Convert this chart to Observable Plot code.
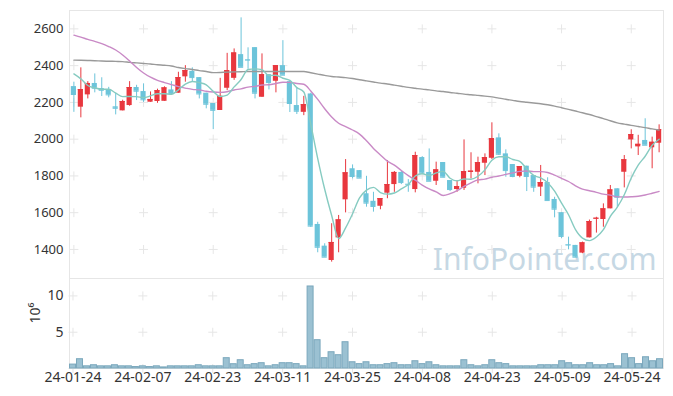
<!DOCTYPE html>
<html><head><meta charset="utf-8">
<script src="https://cdn.jsdelivr.net/npm/d3@7"></script>
<script src="https://cdn.jsdelivr.net/npm/@observablehq/plot@0.6"></script>
<style>
body{margin:0;background:#fff}
#chart{position:relative;width:673px;height:396px;background:#fff}
#chart svg{display:block}
</style>
</head><body><div id="chart"></div>
<script>
const dates = [
"2024-01-24","2024-01-25","2024-01-26","2024-01-29","2024-01-30","2024-01-31",
"2024-02-01","2024-02-02","2024-02-05","2024-02-06","2024-02-07","2024-02-08","2024-02-13","2024-02-14","2024-02-15","2024-02-16","2024-02-19","2024-02-20","2024-02-21","2024-02-22","2024-02-23","2024-02-26","2024-02-27","2024-02-28","2024-02-29",
"2024-03-04","2024-03-05","2024-03-06","2024-03-07","2024-03-08","2024-03-11","2024-03-12","2024-03-13","2024-03-14","2024-03-15","2024-03-18","2024-03-19","2024-03-20","2024-03-21","2024-03-22","2024-03-25","2024-03-26","2024-03-27","2024-03-28","2024-03-29",
"2024-04-01","2024-04-02","2024-04-03","2024-04-04","2024-04-05","2024-04-08","2024-04-09","2024-04-11","2024-04-12","2024-04-15","2024-04-16","2024-04-17","2024-04-18","2024-04-19","2024-04-22","2024-04-23","2024-04-24","2024-04-25","2024-04-26","2024-04-29","2024-04-30",
"2024-05-02","2024-05-03","2024-05-07","2024-05-08","2024-05-09","2024-05-10","2024-05-13","2024-05-14","2024-05-16","2024-05-17","2024-05-20","2024-05-21","2024-05-22","2024-05-23","2024-05-24","2024-05-27","2024-05-28","2024-05-29","2024-05-30"];

const opens = [2286,2174,2241,2303,2275,2270,2176,2154,2183,2281,2259,2201,2205,2206,2268,2250,2339,2369,2335,2250,2194,2156,2277,2331,2460,2433,2498,2228,2351,2315,2400,2313,2183,2146,2246,1536,1418,1340,1463,1670,1839,1829,1703,1662,1635,1706,1753,1819,1755,1726,1900,1819,1771,1873,1775,1726,1733,1819,1820,1869,1896,2007,1920,1862,1798,1853,1802,1739,1764,1672,1600,1427,1422,1380,1463,1565,1563,1621,1730,1820,1996,1958,1993,1953,1978];
const highs = [2310,2388,2313,2355,2334,2282,2250,2212,2313,2293,2301,2257,2272,2285,2313,2364,2400,2388,2335,2250,2194,2331,2467,2491,2660,2497,2498,2464,2351,2400,2536,2313,2279,2233,2250,1548,1431,1540,1585,1889,1860,1829,1798,1711,1677,1884,1824,1824,1780,1929,1905,1947,1875,1873,1775,1775,1996,1926,1902,1920,2089,2029,1942,1862,1851,1853,1802,1857,1790,1684,1600,1467,1422,1440,1560,1575,1648,1748,1730,1911,2051,2021,2111,2011,2078];
const lows = [2146,2116,2219,2252,2232,2225,2132,2154,2179,2210,2200,2201,2195,2206,2243,2250,2310,2313,2219,2165,2052,2156,2264,2320,2391,2380,2219,2228,2268,2252,2348,2145,2134,2128,1520,1382,1358,1331,1382,1599,1784,1788,1630,1603,1616,1676,1711,1753,1711,1708,1811,1771,1748,1790,1715,1711,1721,1784,1757,1802,1889,1911,1793,1790,1790,1715,1711,1688,1666,1572,1458,1398,1358,1377,1463,1489,1521,1621,1630,1735,1947,1911,1967,1839,1926];
const closes = [2243,2270,2303,2277,2266,2241,2168,2205,2281,2261,2214,2216,2264,2279,2248,2335,2373,2335,2246,2190,2157,2233,2373,2469,2391,2430,2250,2351,2308,2400,2348,2194,2152,2188,1527,1412,1358,1438,1561,1817,1797,1788,1652,1634,1677,1753,1819,1764,1752,1911,1815,1771,1833,1793,1726,1742,1824,1826,1873,1900,2003,1918,1829,1797,1851,1797,1739,1764,1666,1619,1471,1424,1358,1436,1552,1570,1621,1724,1684,1888,2025,1972,1967,1983,2052];
const volumes = [540000,1280000,300000,450000,300000,300000,450000,300000,300000,200000,300000,200000,300000,150000,300000,300000,300000,300000,450000,300000,300000,300000,1420000,590000,1140000,450000,600000,730000,300000,450000,730000,730000,600000,300000,11300000,3900000,1420000,2240000,1830000,3620000,860000,600000,860000,450000,450000,600000,730000,450000,450000,1000000,600000,860000,450000,300000,300000,300000,1140000,450000,300000,450000,1140000,730000,600000,300000,300000,300000,300000,450000,450000,450000,1000000,730000,450000,450000,730000,450000,450000,600000,300000,1970000,1420000,600000,1550000,1000000,1280000];

const ma5Lead = [2355,2328,2292,2279];
const ma20Lead = [2566,2555,2543,2532,2520,2504,2485,2458,2425,2390,2360,2337,2320,2308,2297,2286,2278,2271,2268];
const ma60 = [2430,2429,2428,2427,2425,2424,2423,2422,2418,2415,2412,2409,2405,2402,2398,2390,2384,2379,2373,2368,2362,2363,2365,2366,2367,2368,2368,2368,2368,2368,2368,2368,2368,2368,2361,2354,2347,2341,2338,2335,2330,2323,2317,2311,2305,2300,2294,2288,2282,2277,2272,2268,2263,2259,2254,2250,2245,2242,2238,2234,2230,2223,2217,2211,2205,2201,2197,2193,2187,2180,2171,2162,2153,2144,2134,2123,2112,2100,2089,2082,2075,2069,2063,2056,2050];

const priceTicks = [1400,1600,1800,2000,2200,2400,2600];
const volumeTicks = [5,10];
const xTickDates = ["2024-01-24","2024-02-07","2024-02-23","2024-03-11","2024-03-25","2024-04-08","2024-04-23","2024-05-09","2024-05-24"];
const watermark = "InfoPointer.com";
const volumeLabel = "10⁶";

const ma5 = closes.map((c, i) => i < 4 ? ma5Lead[i] : d3.mean(closes.slice(i - 4, i + 1)));
const ma20 = closes.map((c, i) => i < 19 ? ma20Lead[i] : d3.mean(closes.slice(i - 19, i + 1)));

const rows = dates.map((date, i) => ({
  date, open: opens[i], high: highs[i], low: lows[i], close: closes[i],
  volume: volumes[i], ma5: ma5[i], ma20: ma20[i], ma60: ma60[i]
}));
const ups = rows.filter(d => d.close >= d.open);
const downs = rows.filter(d => d.close < d.open);

const red = "#e8373e", blue = "#6cc4da";
const priceGrid = xTickDates.flatMap(x => priceTicks.map(y => ({x, y})));
const volGrid = xTickDates.flatMap(x => [0, 5, 10].map(y => ({x, y})));

const font = {fontFamily: "'Noto Sans', 'Open Sans', sans-serif", fontSize: "13px", color: "#333", background: "transparent", overflow: "visible"};

const candle = (data, color) => [
  Plot.ruleX(data, {x: "date", y1: "low", y2: "high", stroke: color, strokeWidth: 1}),
  Plot.barY(data, {x: "date", y1: "open", y2: "close", fill: color}),
  Plot.tickY(data, {x: "date", y: "close", stroke: color, strokeWidth: 1})
];

const price = Plot.plot({
  width: 673, height: 278,
  marginTop: 10, marginBottom: 0, marginLeft: 69, marginRight: 10,
  style: font,
  x: {type: "band", domain: dates, padding: 0.26, axis: null},
  y: {domain: [1242, 2700], ticks: priceTicks, tickSize: 0, tickPadding: 6, label: null, tickFormat: d => String(d)},
  marks: [
    Plot.frame({stroke: "#e6e6e6"}),
    Plot.dot(priceGrid, {x: "x", y: "y", symbol: "plus", r: 3, stroke: "#e6e6e6", strokeWidth: 1}),
    Plot.text([watermark], {frameAnchor: "bottom-right", dx: -7, dy: -9, fontSize: 30, fill: "#c6d8e4", textAnchor: "end", lineAnchor: "bottom", fontFamily: "'Noto Sans', sans-serif"}),
    ...candle(ups, red),
    ...candle(downs, blue),
    Plot.lineY(rows, {x: "date", y: "ma60", stroke: "#9a9a9a", strokeWidth: 1.4, curve: "monotone-x"}),
    Plot.lineY(rows, {x: "date", y: "ma20", stroke: "#c98ac6", strokeWidth: 1.4, curve: "monotone-x"}),
    Plot.lineY(rows, {x: "date", y: "ma5", stroke: "#86cbc1", strokeWidth: 1.4, curve: "monotone-x"})
  ]
});

const vol = Plot.plot({
  width: 673, height: 118,
  marginTop: 0, marginBottom: 28, marginLeft: 69, marginRight: 10,
  style: {...font, fontSize: "14px"},
  x: {type: "band", domain: dates, padding: 0, ticks: xTickDates, tickFormat: d => d.slice(2), tickSize: 0, tickPadding: 4, label: null},
  y: {domain: [0, 12.4], ticks: volumeTicks, tickSize: 0, tickPadding: 6, label: null},
  marks: [
    Plot.frame({stroke: "#e6e6e6"}),
    Plot.dot(volGrid, {x: "x", y: "y", symbol: "plus", r: 3, stroke: "#e6e6e6", strokeWidth: 1}),
    Plot.barY(rows, {x: "date", y: d => d.volume / 1e6, fill: "#9bc1d2", stroke: "#7aa7bc", strokeWidth: 1, insetLeft: 0.5, insetRight: 0.5}),
    Plot.text([volumeLabel], {frameAnchor: "left", dx: -34, rotate: -90, fontSize: 14, fill: "#333"})
  ]
});

const chart = document.getElementById("chart");
chart.appendChild(price);
chart.appendChild(vol);
</script>
</body></html>
